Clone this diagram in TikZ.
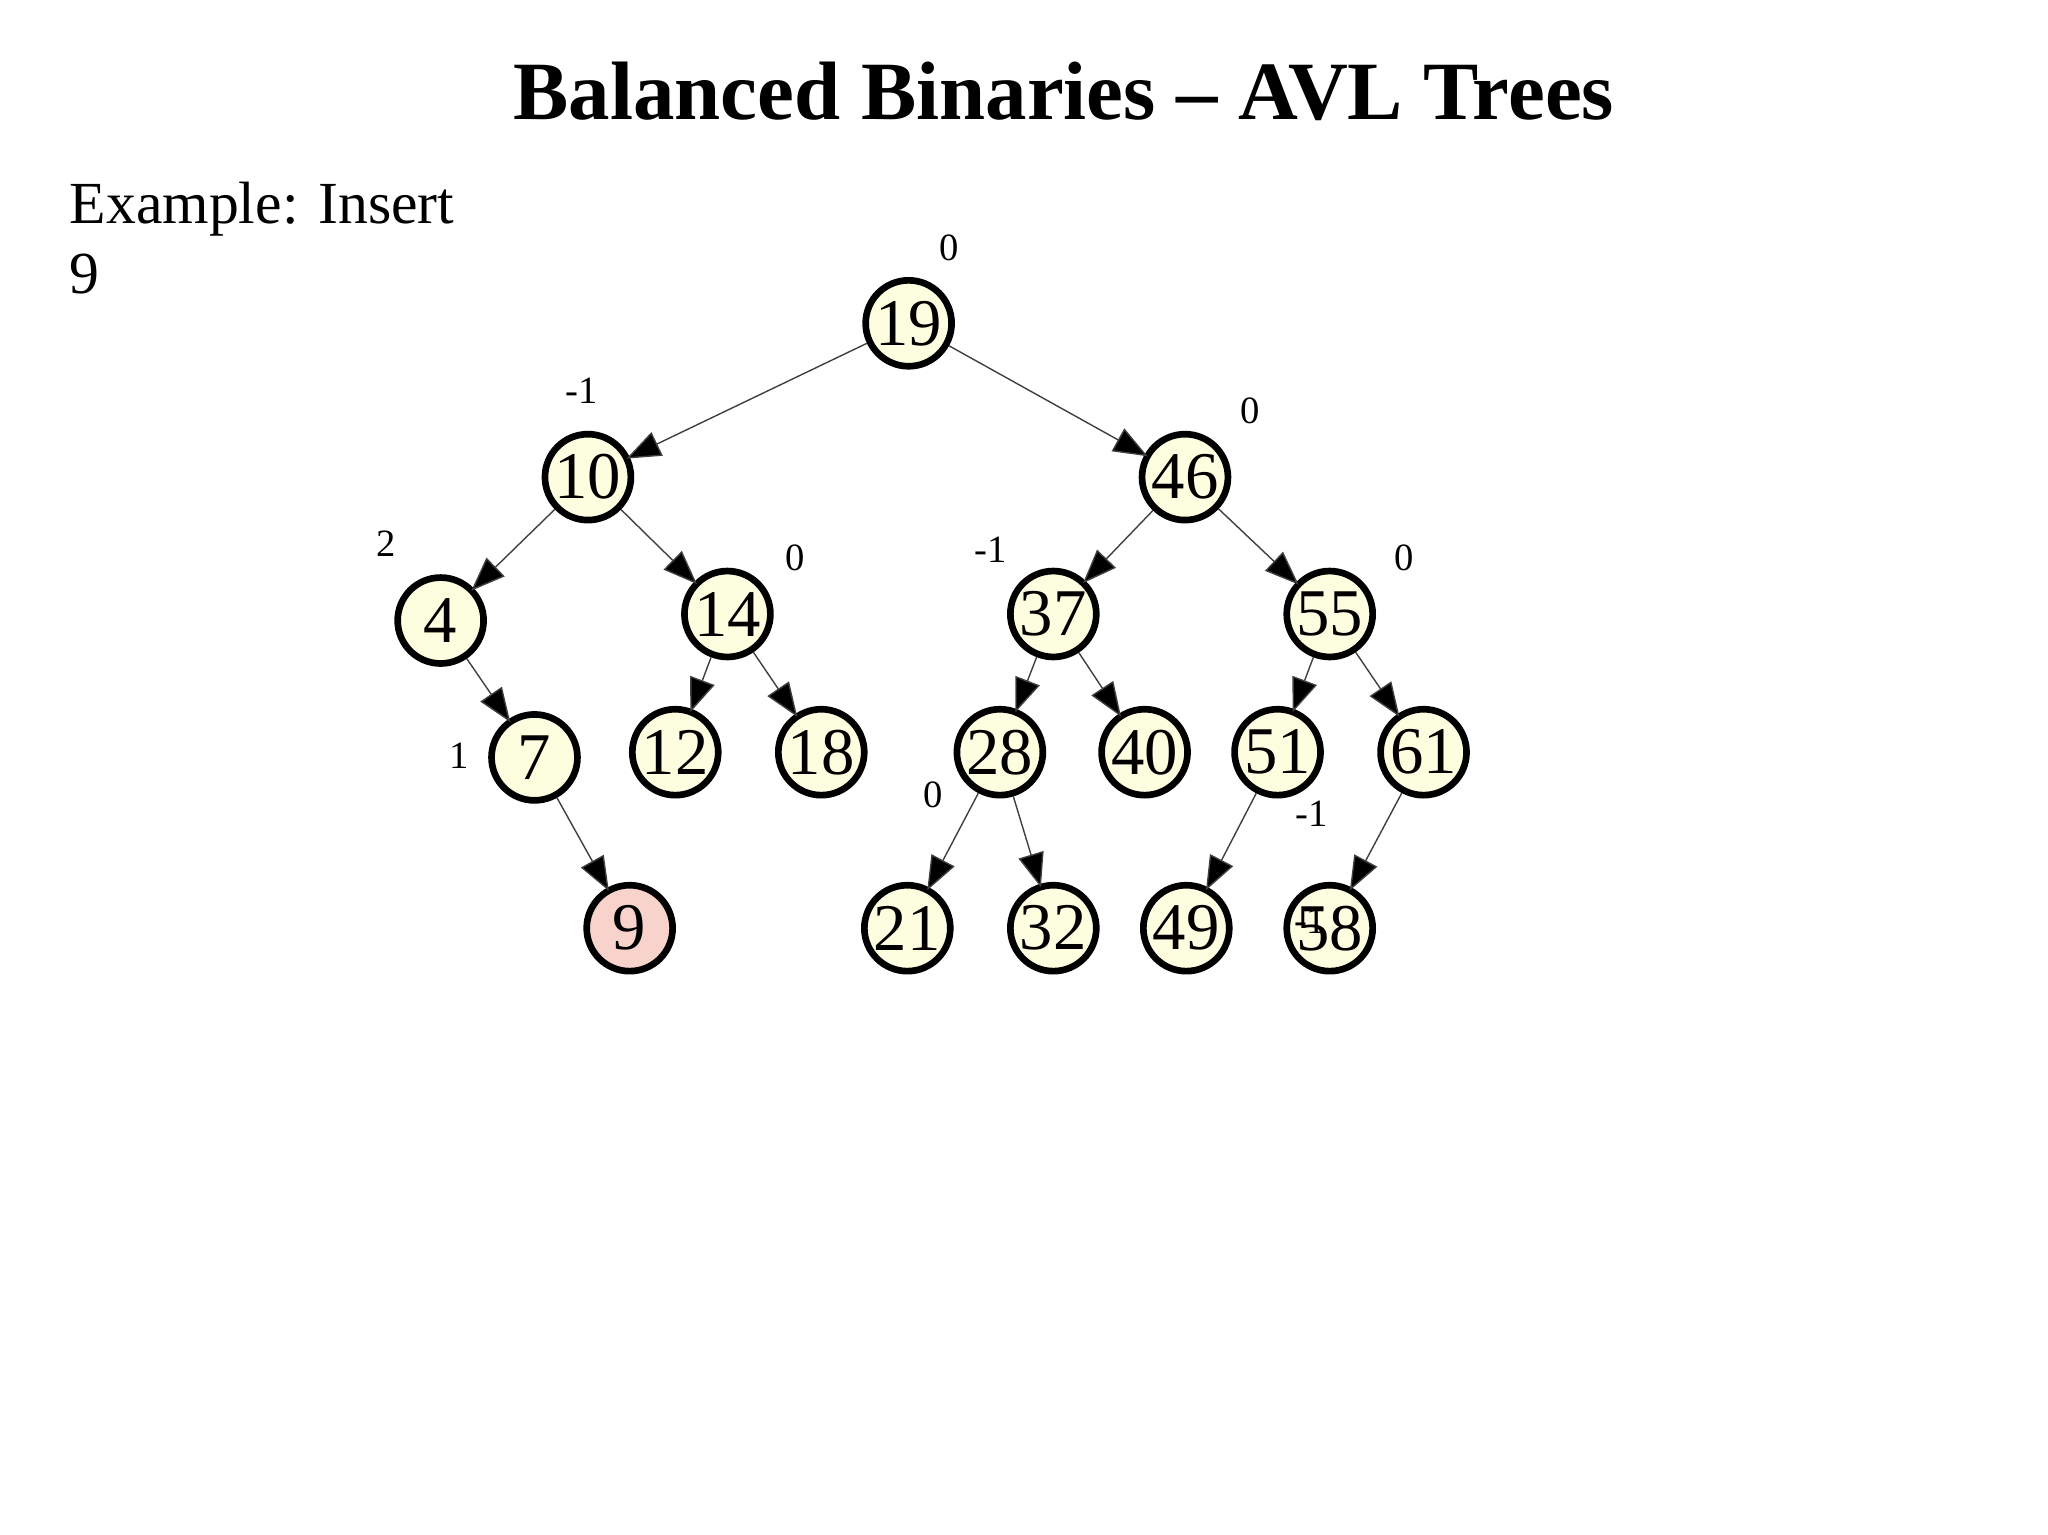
\documentclass[tikz,border=0pt]{standalone}
\usepackage{fontspec}
\setmainfont{Liberation Serif}
\usetikzlibrary{arrows.meta}
\definecolor{nodefill}{HTML}{FDFDE0}
\definecolor{newfill}{HTML}{F8D3CC}
\begin{document}
\begin{tikzpicture}[x=0.01304cm,y=-0.01304cm,
  tn/.style={circle,draw=black,line width=1.9pt,fill=nodefill,minimum size=0.86cm,inner sep=0pt,font=\fontsize{19}{19}\selectfont},
  bl/.style={font=\fontsize{11}{11}\selectfont},
  ed/.style={draw=black!75,line width=0.4pt,-{Triangle[length=0.34cm,width=0.26cm,fill=black]},shorten >=-1pt}]
\useasboundingbox (0,0) rectangle (1571,1177);
\node[font=\fontsize{23.6}{24}\selectfont\bfseries] (title) at (816,70) {Balanced Binaries -- AVL Trees};
\node[font=\fontsize{17}{20}\selectfont,align=left,anchor=north west] (ex) at (44,130) {Example: Insert\\9};
\node[tn] (n19) at (697,248) {19};
\node[tn] (n10) at (451,366) {10};
\node[tn] (n46) at (909,366) {46};
\node[tn] (n4) at (338,476) {4};
\node[tn] (n14) at (558,471) {14};
\node[tn] (n37) at (808,471) {37};
\node[tn] (n55) at (1020,471) {55};
\node[tn] (n7) at (410,581) {7};
\node[tn] (n12) at (518,577) {12};
\node[tn] (n18) at (630,577) {18};
\node[tn] (n28) at (767,577) {28};
\node[tn] (n40) at (878,577) {40};
\node[tn] (n51) at (980,577) {51};
\node[tn] (n61) at (1092,577) {61};
\node[tn,fill=newfill] (n9) at (483,712) {9};
\node[tn] (n21) at (696,712) {21};
\node[tn] (n32) at (808,712) {32};
\node[tn] (n49) at (910,712) {49};
\node[tn] (n58) at (1020,712) {58};
\foreach \a/\b in {19/10,19/46,10/4,10/14,46/37,46/55,4/7,14/12,14/18,37/28,37/40,55/51,55/61,7/9,28/21,28/32,51/49,61/58}
  \draw[ed] (n\a) -- (n\b);
\node[bl] (b19) at (728,190) {0};
\node[bl] (b10) at (446,300) {-1};
\node[bl] (b46) at (959,315) {0};
\node[bl] (b4) at (296,417) {2};
\node[bl] (b14) at (610,428) {0};
\node[bl] (b37) at (760,422) {-1};
\node[bl] (b55) at (1077,428) {0};
\node[bl] (b7) at (352,580) {1};
\node[bl] (b28) at (716,610) {0};
\node[bl] (b51) at (1006,624) {-1};
\node[bl] (b61) at (1005,706) {-1};
\end{tikzpicture}
\end{document}
